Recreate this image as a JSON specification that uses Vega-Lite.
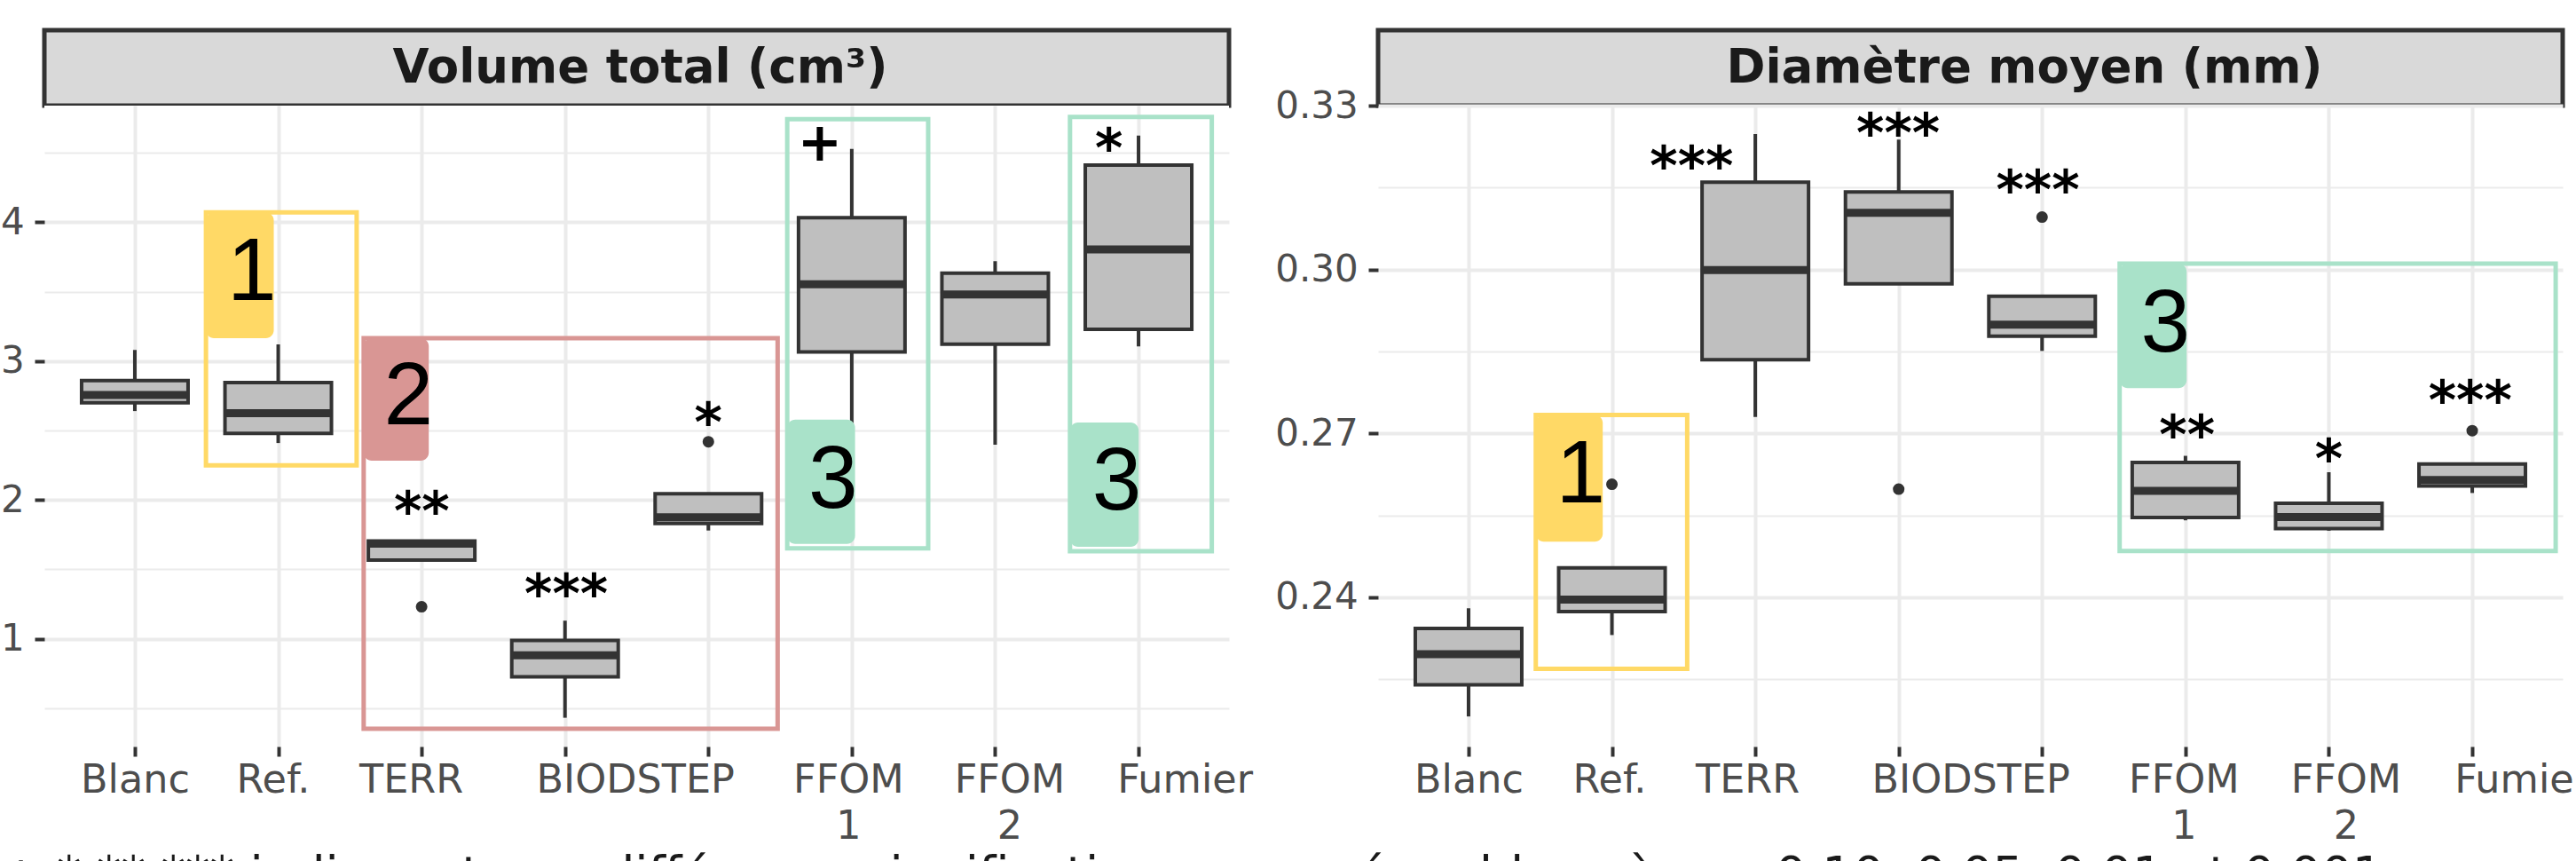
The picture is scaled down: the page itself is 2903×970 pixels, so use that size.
{
  "$schema": "https://vega.github.io/schema/vega-lite/v6.json",
  "background": "white",
  "padding": {"left": 0, "top": 31, "right": 0, "bottom": 0},
  "title": {
    "text": "+ * ** *** indiquent une différence significative comparé au blanc à p = 0.10, 0.05, 0.01 et 0.001",
    "orient": "bottom", "anchor": "start", "font": "DejaVu Sans", "fontSize": 55,
    "fontWeight": "normal", "color": "#1a1a1a", "offset": 8
  },
  "datasets": {
    "boxesL": [
      {"pos": 1, "lo": 2.64, "q1": 2.70, "med": 2.755, "q3": 2.86, "hi": 3.08},
      {"pos": 2, "lo": 2.41, "q1": 2.48, "med": 2.625, "q3": 2.845, "hi": 3.12},
      {"pos": 3, "lo": 1.565, "q1": 1.567, "med": 1.685, "q3": 1.705, "hi": 1.71},
      {"pos": 4, "lo": 0.432, "q1": 0.726, "med": 0.882, "q3": 0.988, "hi": 1.131},
      {"pos": 5, "lo": 1.78, "q1": 1.831, "med": 1.876, "q3": 2.045, "hi": 2.045},
      {"pos": 6, "lo": 2.54, "q1": 3.065, "med": 3.553, "q3": 4.032, "hi": 4.528},
      {"pos": 7, "lo": 2.398, "q1": 3.122, "med": 3.48, "q3": 3.633, "hi": 3.719},
      {"pos": 8, "lo": 3.105, "q1": 3.229, "med": 3.804, "q3": 4.411, "hi": 4.624}
    ],
    "outL": [{"pos": 3, "v": 1.231}, {"pos": 5, "v": 2.419}],
    "rectsL": [
      {"g": "1", "x1": 1.496, "x2": 2.547, "y1": 2.249, "y2": 4.07},
      {"g": "2", "x1": 2.596, "x2": 5.483, "y1": 0.353, "y2": 3.165},
      {"g": "3", "x1": 5.55, "x2": 6.533, "y1": 1.652, "y2": 4.741},
      {"g": "3", "x1": 7.522, "x2": 8.511, "y1": 1.631, "y2": 4.758}
    ],
    "tagsL": [
      {"g": "1", "x1": 1.496, "x2": 1.969, "y1": 3.165, "y2": 4.07, "tx": 1.816, "ty": 3.672},
      {"g": "2", "x1": 2.596, "x2": 3.05, "y1": 2.283, "y2": 3.165, "tx": 2.909, "ty": 2.775},
      {"g": "3", "x1": 5.55, "x2": 6.023, "y1": 1.684, "y2": 2.579, "tx": 5.87, "ty": 2.174},
      {"g": "3", "x1": 7.522, "x2": 8.001, "y1": 1.663, "y2": 2.558, "tx": 7.848, "ty": 2.162}
    ],
    "starsL": [
      {"pos": 3.001, "v": 2.004, "s": "**"},
      {"pos": 4.009, "v": 1.408, "s": "***"},
      {"pos": 5.0, "v": 2.643, "s": "*"},
      {"pos": 5.778, "v": 4.66, "s": "+"},
      {"pos": 7.793, "v": 4.613, "s": "*"}
    ],
    "boxesR": [
      {"pos": 1, "lo": 0.2182, "q1": 0.2240, "med": 0.2296, "q3": 0.2343, "hi": 0.2380},
      {"pos": 2, "lo": 0.2331, "q1": 0.2374, "med": 0.2396, "q3": 0.2454, "hi": 0.2454},
      {"pos": 3, "lo": 0.2730, "q1": 0.2835, "med": 0.2999, "q3": 0.3160, "hi": 0.3248},
      {"pos": 4, "lo": 0.2974, "q1": 0.2974, "med": 0.3104, "q3": 0.3142, "hi": 0.3238},
      {"pos": 5, "lo": 0.2851, "q1": 0.2878, "med": 0.2899, "q3": 0.2951, "hi": 0.2951},
      {"pos": 6, "lo": 0.2541, "q1": 0.2546, "med": 0.2595, "q3": 0.2647, "hi": 0.2659},
      {"pos": 7, "lo": 0.2522, "q1": 0.2526, "med": 0.2547, "q3": 0.2572, "hi": 0.2629},
      {"pos": 8, "lo": 0.2591, "q1": 0.2604, "med": 0.2615, "q3": 0.2644, "hi": 0.2644}
    ],
    "outR": [{"pos": 2, "v": 0.2607}, {"pos": 4, "v": 0.2598}, {"pos": 5, "v": 0.3096}, {"pos": 8, "v": 0.2705}],
    "rectsR": [
      {"g": "1", "x1": 1.469, "x2": 2.525, "y1": 0.2269, "y2": 0.2734},
      {"g": "3", "x1": 5.541, "x2": 8.582, "y1": 0.2485, "y2": 0.3011}
    ],
    "tagsR": [
      {"g": "1", "x1": 1.469, "x2": 1.936, "y1": 0.2502, "y2": 0.2734, "tx": 1.782, "ty": 0.2632},
      {"g": "3", "x1": 5.541, "x2": 6.008, "y1": 0.2783, "y2": 0.3011, "tx": 5.861, "ty": 0.2909}
    ],
    "starsR": [
      {"pos": 2.556, "v": 0.321, "s": "***"},
      {"pos": 3.996, "v": 0.3271, "s": "***"},
      {"pos": 4.97, "v": 0.3166, "s": "***"},
      {"pos": 6.011, "v": 0.2718, "s": "**"},
      {"pos": 7.0, "v": 0.2675, "s": "*"},
      {"pos": 7.986, "v": 0.2781, "s": "***"}
    ]
  },
  "columns": 2,
  "spacing": {"row": 0, "column": 168},
  "bounds": "flush",
  "concat": [
    {
      "width": 1335, "height": 85,
      "view": {"fill": "#d9d9d9", "stroke": "#333333", "strokeWidth": 5},
      "data": {"values": [{"t": "Volume total (cm³)"}]},
      "mark": {"type": "text", "font": "DejaVu Sans", "fontWeight": "bold", "fontSize": 53, "color": "#1a1a1a", "dx": 4},
      "encoding": {"text": {"field": "t", "type": "nominal"}}
    },
    {
      "width": 1335, "height": 85,
      "view": {"fill": "#d9d9d9", "stroke": "#333333", "strokeWidth": 5},
      "data": {"values": [{"t": "Diamètre moyen (mm)"}]},
      "mark": {"type": "text", "font": "DejaVu Sans", "fontWeight": "bold", "fontSize": 53, "color": "#1a1a1a", "dx": 61},
      "encoding": {"text": {"field": "t", "type": "nominal"}}
    },
    {
      "width": 1335, "height": 722,
      "view": {"fill": "white", "stroke": null},
      "encoding": {
        "x": {
          "field": "pos", "type": "quantitative", "title": null,
          "scale": {"domain": [0.4, 8.6], "nice": false, "zero": false},
          "axis": {
            "title": null, "values": [1, 2, 3, 4, 5, 6, 7, 8], "grid": true, "gridWidth": 4, "gridColor": "#ebebeb",
            "domain": false, "tickSize": 11, "tickWidth": 4, "tickColor": "#333333",
            "labelFont": "DejaVu Sans", "labelFontSize": 44.5, "labelColor": "#4d4d4d", "labelLimit": 0,
            "labelOverlap": false, "labelFlush": false, "labelBaseline": "top", "labelAlign": "center",
            "labelPadding": 5, "labelLineHeight": 52,
            "labelExpr": "datum.value == 1 ? 'Blanc' : datum.value == 2 ? 'Ref.' : datum.value == 3 ? 'TERR' : datum.value == 4 ? 'BIODSTEP' : datum.value == 6 ? ['FFOM', '1'] : datum.value == 7 ? ['FFOM', '2'] : datum.value == 8 ? 'Fumier' : ''",
            "labelOffset": {"condition": [
              {"test": "datum.value == 2", "value": -6},
              {"test": "datum.value == 3", "value": -12},
              {"test": "datum.value == 4", "value": 79},
              {"test": "datum.value == 6", "value": -4},
              {"test": "datum.value == 7", "value": 16},
              {"test": "datum.value == 8", "value": 52}
            ], "value": 0}
          }
        }
      },
      "layer": [
        {
          "data": {"name": "boxesL"},
          "mark": {"type": "rule", "color": "#333333", "strokeWidth": 4},
          "encoding": {
            "y": {
              "field": "lo", "type": "quantitative", "title": null,
              "scale": {"domain": [0.225, 4.839], "nice": false, "zero": false},
              "axis": {
                "title": null, "values": [0.5, 1, 1.5, 2, 2.5, 3, 3.5, 4, 4.5], "grid": true, "gridColor": "#ebebeb",
                "gridWidth": {"condition": {"test": "datum.value % 1 != 0", "value": 2}, "value": 4},
                "tickOpacity": {"condition": {"test": "datum.value % 1 != 0", "value": 0}, "value": 1},
                "domain": false, "tickSize": 11, "tickWidth": 4, "tickColor": "#333333",
                "labelFont": "DejaVu Sans", "labelFontSize": 42, "labelColor": "#4d4d4d",
                "labelOverlap": false, "labelFlush": false, "labelPadding": 11.8,
                "labelExpr": "datum.value % 1 == 0 ? format(datum.value, 'd') : ''"
              }
            },
            "y2": {"field": "hi"}
          }
        },
        {
          "data": {"name": "boxesL"},
          "mark": {"type": "bar", "size": 120, "fill": "#bfbfbf", "stroke": "#333333", "strokeWidth": 4},
          "encoding": {
            "y": {"field": "q1", "type": "quantitative", "title": null, "scale": {"domain": [0.225, 4.839], "nice": false, "zero": false}},
            "y2": {"field": "q3"}
          }
        },
        {
          "data": {"name": "boxesL"},
          "mark": {"type": "tick", "orient": "horizontal", "size": 120, "thickness": 9, "color": "#333333", "opacity": 1},
          "encoding": {
            "y": {"field": "med", "type": "quantitative", "title": null, "scale": {"domain": [0.225, 4.839], "nice": false, "zero": false}}
          }
        },
        {
          "data": {"name": "outL"},
          "mark": {"type": "point", "filled": true, "size": 170, "color": "#333333", "opacity": 1},
          "encoding": {
            "y": {"field": "v", "type": "quantitative", "title": null, "scale": {"domain": [0.225, 4.839], "nice": false, "zero": false}}
          }
        },
        {
          "data": {"name": "rectsL"},
          "mark": {"type": "rect", "fill": "transparent", "strokeWidth": 5},
          "encoding": {
            "x": {"field": "x1", "type": "quantitative", "title": null, "scale": {"domain": [0.4, 8.6], "nice": false, "zero": false}},
            "x2": {"field": "x2"},
            "y": {"field": "y1", "type": "quantitative", "title": null, "scale": {"domain": [0.225, 4.839], "nice": false, "zero": false}},
            "y2": {"field": "y2"},
            "stroke": {"field": "g", "type": "nominal", "scale": {"domain": ["1", "2", "3"], "range": ["#ffd966", "#d99694", "#a9e2c9"]}, "legend": null}
          }
        },
        {
          "data": {"name": "tagsL"},
          "mark": {"type": "rect", "cornerRadius": 9, "opacity": 1},
          "encoding": {
            "x": {"field": "x1", "type": "quantitative", "title": null, "scale": {"domain": [0.4, 8.6], "nice": false, "zero": false}},
            "x2": {"field": "x2"},
            "y": {"field": "y1", "type": "quantitative", "title": null, "scale": {"domain": [0.225, 4.839], "nice": false, "zero": false}},
            "y2": {"field": "y2"},
            "fill": {"field": "g", "type": "nominal", "scale": {"domain": ["1", "2", "3"], "range": ["#ffd966", "#d99694", "#a9e2c9"]}, "legend": null}
          }
        },
        {
          "data": {"name": "tagsL"},
          "mark": {"type": "text", "font": "Liberation Sans", "fontSize": 100, "color": "#000000", "dy": 6},
          "encoding": {
            "x": {"field": "tx", "type": "quantitative", "title": null, "scale": {"domain": [0.4, 8.6], "nice": false, "zero": false}},
            "y": {"field": "ty", "type": "quantitative", "title": null, "scale": {"domain": [0.225, 4.839], "nice": false, "zero": false}},
            "text": {"field": "g", "type": "nominal"}
          }
        },
        {
          "data": {"name": "starsL"},
          "mark": {"type": "text", "font": "DejaVu Sans", "fontWeight": "bold", "fontSize": 60, "color": "#000000", "dy": 16},
          "encoding": {
            "y": {"field": "v", "type": "quantitative", "title": null, "scale": {"domain": [0.225, 4.839], "nice": false, "zero": false}},
            "text": {"field": "s", "type": "nominal"}
          }
        },
        {
          "data": {"values": [{"b": 1}]},
          "mark": {"type": "rect", "fill": "transparent", "stroke": "#333333", "strokeWidth": 4.5},
          "encoding": {}
        }
      ]
    },
    {
      "width": 1335, "height": 722,
      "view": {"fill": "white", "stroke": null},
      "encoding": {
        "x": {
          "field": "pos", "type": "quantitative", "title": null,
          "scale": {"domain": [0.4, 8.6], "nice": false, "zero": false},
          "axis": {
            "title": null, "values": [1, 2, 3, 4, 5, 6, 7, 8], "grid": true, "gridWidth": 4, "gridColor": "#ebebeb",
            "domain": false, "tickSize": 11, "tickWidth": 4, "tickColor": "#333333",
            "labelFont": "DejaVu Sans", "labelFontSize": 44.5, "labelColor": "#4d4d4d", "labelLimit": 0,
            "labelOverlap": false, "labelFlush": false, "labelBaseline": "top", "labelAlign": "center",
            "labelPadding": 5, "labelLineHeight": 52,
            "labelExpr": "datum.value == 1 ? 'Blanc' : datum.value == 2 ? 'Ref.' : datum.value == 3 ? 'TERR' : datum.value == 4 ? 'BIODSTEP' : datum.value == 6 ? ['FFOM', '1'] : datum.value == 7 ? ['FFOM', '2'] : datum.value == 8 ? 'Fumier' : ''",
            "labelOffset": {"condition": [
              {"test": "datum.value == 2", "value": -3},
              {"test": "datum.value == 3", "value": -9},
              {"test": "datum.value == 4", "value": 81},
              {"test": "datum.value == 6", "value": -2},
              {"test": "datum.value == 7", "value": 19},
              {"test": "datum.value == 8", "value": 56}
            ], "value": 0}
          }
        }
      },
      "layer": [
        {
          "data": {"name": "boxesR"},
          "mark": {"type": "rule", "color": "#333333", "strokeWidth": 4},
          "encoding": {
            "y": {
              "field": "lo", "type": "quantitative", "title": null,
              "scale": {"domain": [0.2127, 0.33], "nice": false, "zero": false},
              "axis": {
                "title": null, "values": [0.225, 0.24, 0.255, 0.27, 0.285, 0.3, 0.315, 0.33], "format": ".2f",
                "grid": true, "gridColor": "#ebebeb",
                "gridWidth": {"condition": {"test": "indexof([0.24, 0.27, 0.3, 0.33], datum.value) < 0", "value": 2}, "value": 4},
                "tickOpacity": {"condition": {"test": "indexof([0.24, 0.27, 0.3, 0.33], datum.value) < 0", "value": 0}, "value": 1},
                "domain": false, "tickSize": 11, "tickWidth": 4, "tickColor": "#333333",
                "labelFont": "DejaVu Sans", "labelFontSize": 42, "labelColor": "#4d4d4d",
                "labelOverlap": false, "labelFlush": false, "labelPadding": 11.8,
                "labelExpr": "indexof([0.24, 0.27, 0.3, 0.33], datum.value) >= 0 ? datum.label : ''"
              }
            },
            "y2": {"field": "hi"}
          }
        },
        {
          "data": {"name": "boxesR"},
          "mark": {"type": "bar", "size": 120, "fill": "#bfbfbf", "stroke": "#333333", "strokeWidth": 4},
          "encoding": {
            "y": {"field": "q1", "type": "quantitative", "title": null, "scale": {"domain": [0.2127, 0.33], "nice": false, "zero": false}},
            "y2": {"field": "q3"}
          }
        },
        {
          "data": {"name": "boxesR"},
          "mark": {"type": "tick", "orient": "horizontal", "size": 120, "thickness": 9, "color": "#333333", "opacity": 1},
          "encoding": {
            "y": {"field": "med", "type": "quantitative", "title": null, "scale": {"domain": [0.2127, 0.33], "nice": false, "zero": false}}
          }
        },
        {
          "data": {"name": "outR"},
          "mark": {"type": "point", "filled": true, "size": 170, "color": "#333333", "opacity": 1},
          "encoding": {
            "y": {"field": "v", "type": "quantitative", "title": null, "scale": {"domain": [0.2127, 0.33], "nice": false, "zero": false}}
          }
        },
        {
          "data": {"name": "rectsR"},
          "mark": {"type": "rect", "fill": "transparent", "strokeWidth": 5},
          "encoding": {
            "x": {"field": "x1", "type": "quantitative", "title": null, "scale": {"domain": [0.4, 8.6], "nice": false, "zero": false}},
            "x2": {"field": "x2"},
            "y": {"field": "y1", "type": "quantitative", "title": null, "scale": {"domain": [0.2127, 0.33], "nice": false, "zero": false}},
            "y2": {"field": "y2"},
            "stroke": {"field": "g", "type": "nominal", "scale": {"domain": ["1", "2", "3"], "range": ["#ffd966", "#d99694", "#a9e2c9"]}, "legend": null}
          }
        },
        {
          "data": {"name": "tagsR"},
          "mark": {"type": "rect", "cornerRadius": 9, "opacity": 1},
          "encoding": {
            "x": {"field": "x1", "type": "quantitative", "title": null, "scale": {"domain": [0.4, 8.6], "nice": false, "zero": false}},
            "x2": {"field": "x2"},
            "y": {"field": "y1", "type": "quantitative", "title": null, "scale": {"domain": [0.2127, 0.33], "nice": false, "zero": false}},
            "y2": {"field": "y2"},
            "fill": {"field": "g", "type": "nominal", "scale": {"domain": ["1", "2", "3"], "range": ["#ffd966", "#d99694", "#a9e2c9"]}, "legend": null}
          }
        },
        {
          "data": {"name": "tagsR"},
          "mark": {"type": "text", "font": "Liberation Sans", "fontSize": 100, "color": "#000000", "dy": 6},
          "encoding": {
            "x": {"field": "tx", "type": "quantitative", "title": null, "scale": {"domain": [0.4, 8.6], "nice": false, "zero": false}},
            "y": {"field": "ty", "type": "quantitative", "title": null, "scale": {"domain": [0.2127, 0.33], "nice": false, "zero": false}},
            "text": {"field": "g", "type": "nominal"}
          }
        },
        {
          "data": {"name": "starsR"},
          "mark": {"type": "text", "font": "DejaVu Sans", "fontWeight": "bold", "fontSize": 60, "color": "#000000", "dy": 16},
          "encoding": {
            "y": {"field": "v", "type": "quantitative", "title": null, "scale": {"domain": [0.2127, 0.33], "nice": false, "zero": false}},
            "text": {"field": "s", "type": "nominal"}
          }
        },
        {
          "data": {"values": [{"b": 1}]},
          "mark": {"type": "rect", "fill": "transparent", "stroke": "#333333", "strokeWidth": 4.5},
          "encoding": {}
        }
      ]
    }
  ]
}
